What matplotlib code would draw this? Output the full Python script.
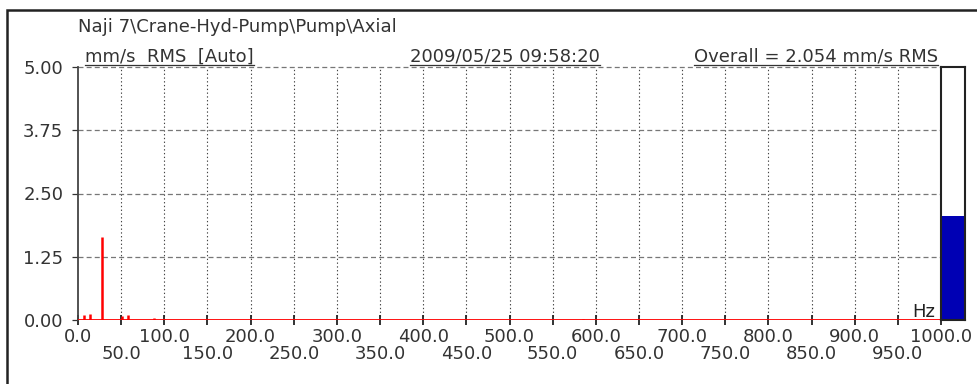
import matplotlib
matplotlib.use('Agg')
import matplotlib.pyplot as plt
from matplotlib.patches import Rectangle
from matplotlib.lines import Line2D

# Spectrum peaks (Hz, mm/s RMS)
peak_freqs = [7, 14, 27.5, 51, 58, 88, 100, 585]
peak_amps = [0.10, 0.12, 1.65, 0.07, 0.10, 0.03, 0.02, 0.02]

overall = 2.054
y_ticks = [0.0, 1.25, 2.5, 3.75, 5.0]
x_major = [0, 100, 200, 300, 400, 500, 600, 700, 800, 900, 1000]
x_minor = [50, 150, 250, 350, 450, 550, 650, 750, 850, 950]

title_path = 'Naji 7\\Crane-Hyd-Pump\\Pump\\Axial'
units_label = 'mm/s  RMS  [Auto]'
date_label = '2009/05/25 09:58:20'
overall_label = 'Overall = 2.054 mm/s RMS'

plt.rcParams['font.family'] = ['DejaVu Sans']
FS = 13
TXT = '#333333'

W, H = 977, 384
fig = plt.figure(figsize=(W / 100, H / 100), dpi=100)


def fx(px):
    return px / W


def fy(py):
    return 1 - py / H


# outer frame
fig.add_artist(Rectangle((fx(7), fy(400)), fx(980), fy(10) - fy(400),
                         fill=False, edgecolor='#222222', linewidth=1.8,
                         transform=fig.transFigure, clip_on=False))

ax = fig.add_axes([fx(78), fy(320), fx(941) - fx(78), fy(67) - fy(320)])
ax.set_xlim(0, 1000)
ax.set_ylim(0, 5.0)

ax.axhline(0, color='red', linewidth=1.3, zorder=3)
ax.vlines(peak_freqs, 0, peak_amps, color='red', linewidth=1.8, zorder=3)

for v in x_major[1:-1] + x_minor:
    ax.axvline(v, color='#444444', linestyle=(0, (1.2, 2.2)), linewidth=0.8, zorder=1)
for v in y_ticks[1:]:
    ax.axhline(v, color='#777777', linestyle=(0, (4, 2.5)), linewidth=0.9,
               zorder=1, clip_on=False)

ax.set_yticks(y_ticks)
ax.set_yticklabels(['%.2f' % v for v in y_ticks])
ax.set_xticks(x_major)
ax.set_xticklabels(['%.1f' % v for v in x_major])
ax.set_xticks(x_minor, minor=True)
ax.set_xticklabels(['%.1f' % v for v in x_minor], minor=True)

ax.tick_params(axis='y', direction='out', length=4.5, width=0.9, color='#333333',
               labelsize=FS, labelcolor=TXT, pad=6)
ax.tick_params(axis='x', which='major', direction='inout', length=7, width=1.3,
               color='#222222', labelsize=FS, labelcolor=TXT, pad=2)
ax.tick_params(axis='x', which='minor', direction='inout', length=7, width=1.3,
               color='#222222', labelsize=FS, labelcolor=TXT, pad=14.5)

for s in ['top', 'right', 'bottom']:
    ax.spines[s].set_visible(False)
ax.spines['left'].set_color('#444444')
ax.spines['left'].set_linewidth(1.3)

ax.text(993, 0.05, 'Hz', ha='right', va='baseline', fontsize=FS, color='#222222')

# overall level bar
bx = fig.add_axes([fx(941), fy(320), fx(965) - fx(941), fy(67) - fy(320)])
bx.set_xlim(0, 1)
bx.set_ylim(0, 5.0)
bx.bar([0.5], [overall], width=1.0, color='#0000b4', edgecolor='none')
bx.set_xticks([])
bx.set_yticks([])
for s in bx.spines.values():
    s.set_color('#222222')
    s.set_linewidth(1.5)

# header texts
fig.text(fx(78), fy(27.5), title_path, fontsize=FS, color=TXT, va='center')
heads = [
    fig.text(fx(85), fy(56.5), units_label, fontsize=FS, color=TXT, va='center'),
    fig.text(fx(410), fy(56.5), date_label, fontsize=FS, color=TXT, va='center'),
    fig.text(fx(938), fy(56.5), overall_label, fontsize=FS, color=TXT, va='center', ha='right'),
]

# underline each header to its own width
renderer = fig.canvas.get_renderer()
for t in heads:
    bb = t.get_window_extent(renderer)
    fig.add_artist(Line2D([bb.x0 / W, bb.x1 / W], [fy(65), fy(65)], color='#333333',
                          linewidth=0.9, transform=fig.transFigure))

fig.savefig('out.png', dpi=100)
